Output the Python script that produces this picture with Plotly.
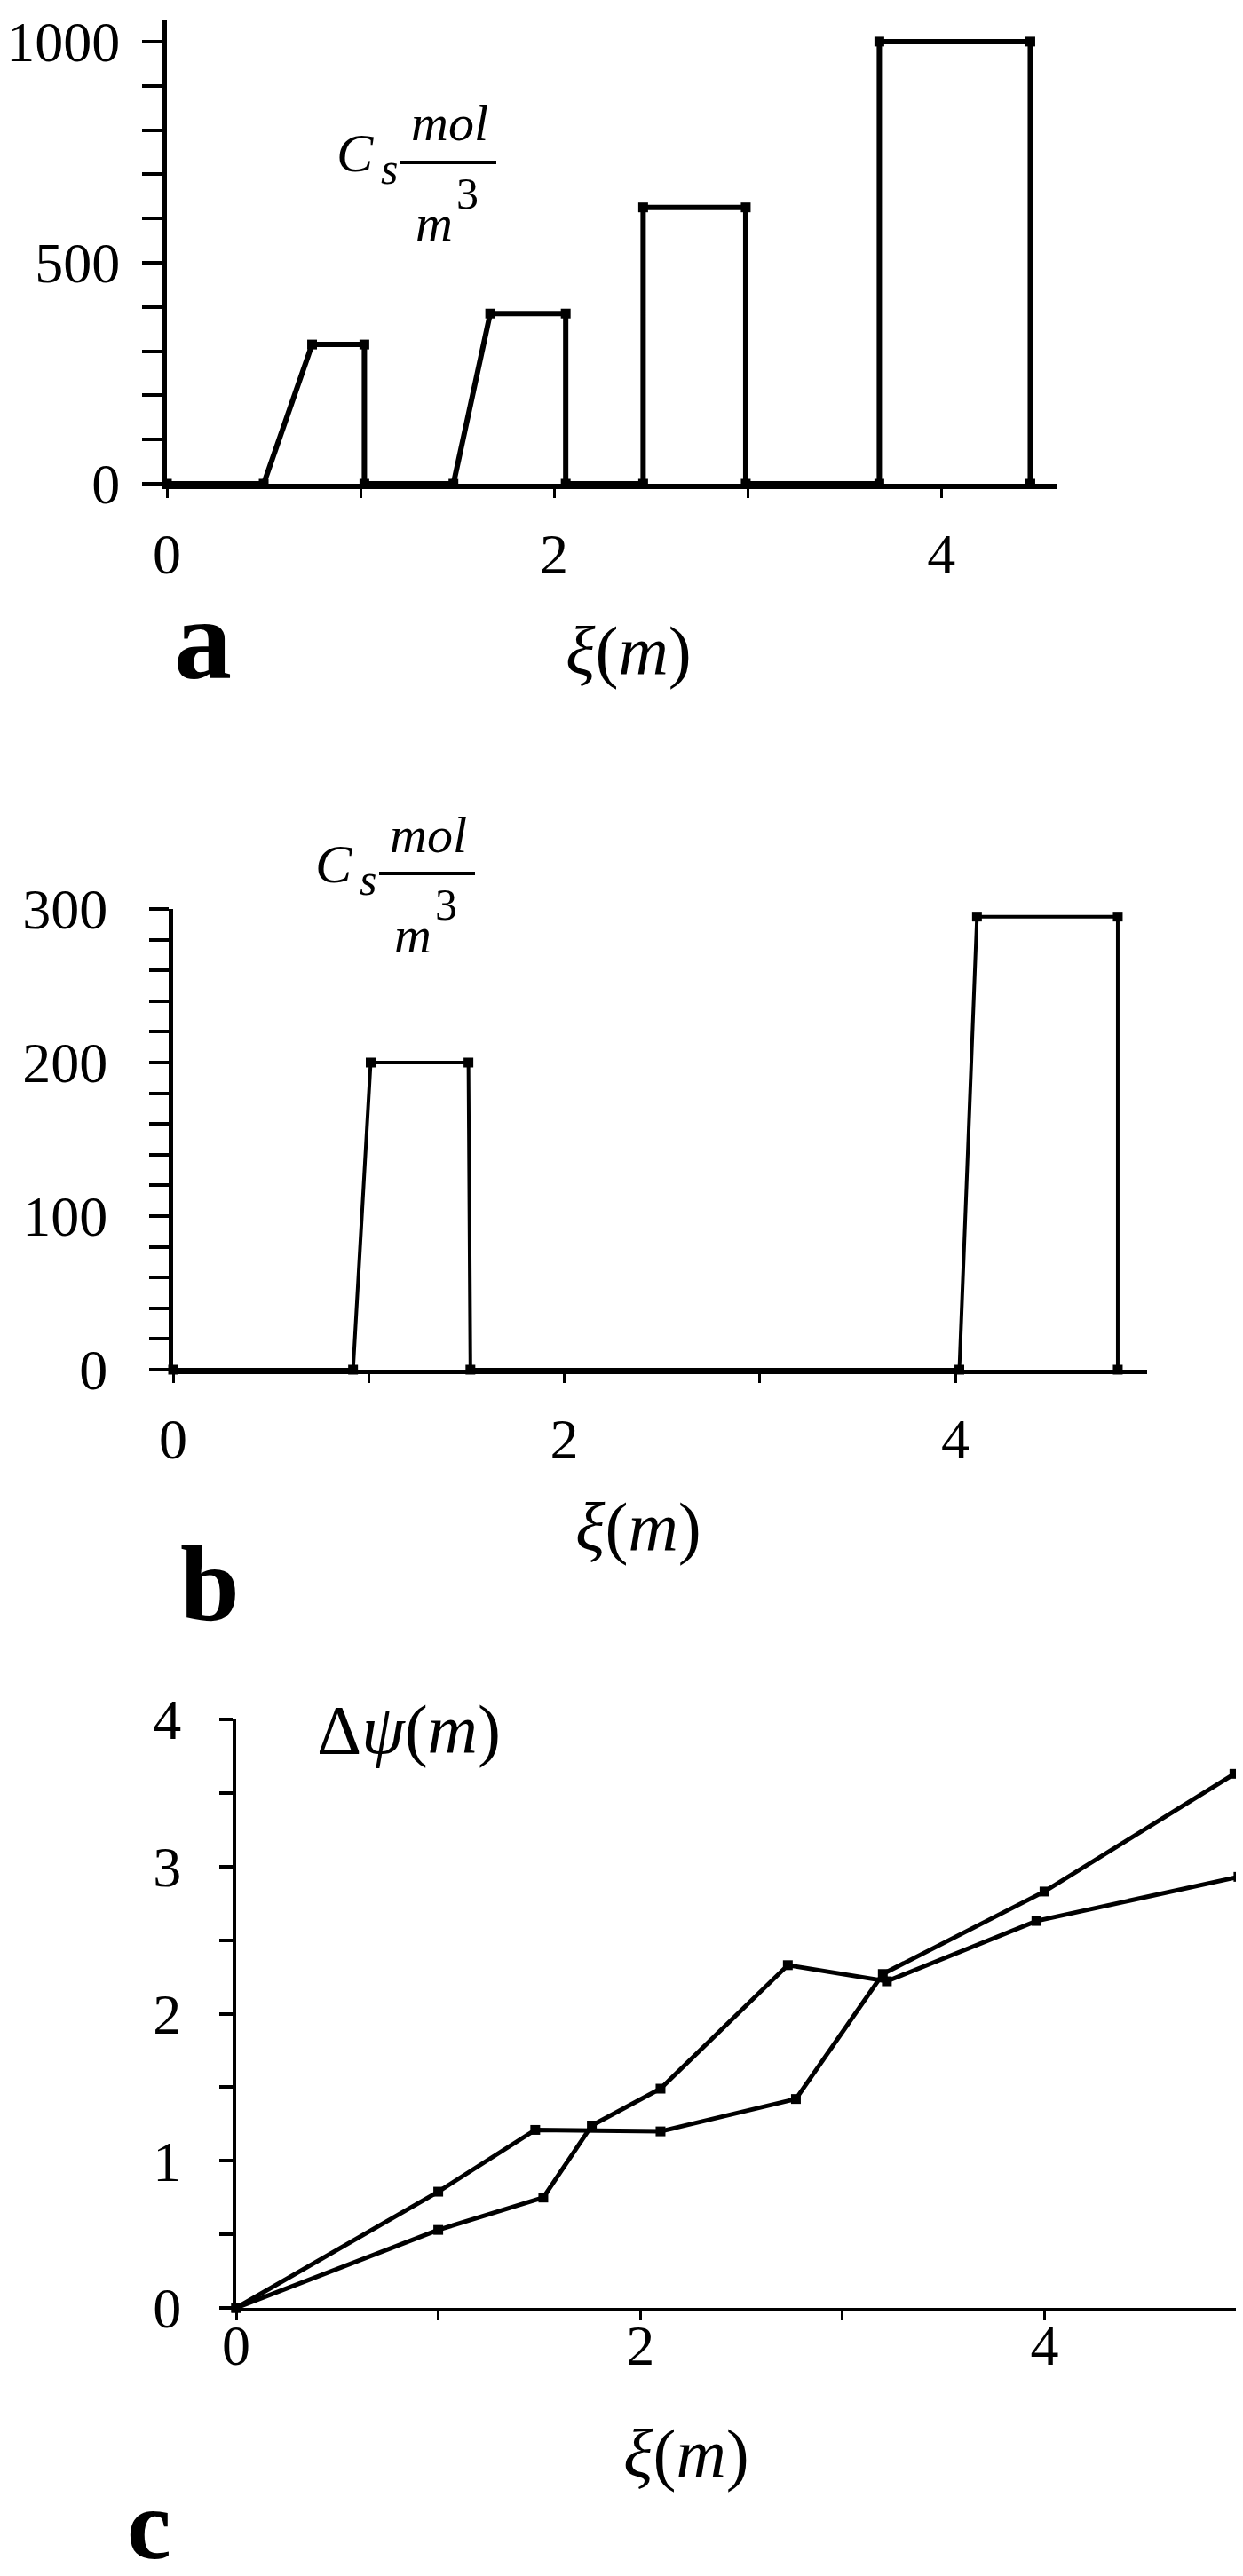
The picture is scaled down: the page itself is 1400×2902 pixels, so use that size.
import plotly.graph_objects as go

W, H = 1400, 2902
FONT = "Liberation Serif, Times New Roman, serif"

# ---- panel a : Cs (mol/m3) along xi (m)
a_xi = [0, 0.50, 0.75, 1.02, 1.02, 1.48, 1.67, 2.06, 2.06, 2.46, 2.46, 2.99, 2.99, 3.68, 3.68, 4.46, 4.46]
a_cs = [0, 0, 315, 315, 0, 0, 385, 385, 0, 0, 625, 625, 0, 0, 1000, 1000, 0]
a_yticks = [0, 100, 200, 300, 400, 500, 600, 700, 800, 900, 1000]
a_ylabels = ['0', '', '', '', '', '500', '', '', '', '', '1000']

# ---- panel b
b_xi = [0, 0.92, 1.01, 1.51, 1.52, 4.02, 4.11, 4.83, 4.83]
b_cs = [0, 0, 200, 200, 0, 0, 295, 295, 0]
b_yticks = [0, 20, 40, 60, 80, 100, 120, 140, 160, 180, 200, 220, 240, 260, 280, 300]
b_ylabels = ['0', '', '', '', '', '100', '', '', '', '', '200', '', '', '', '', '300']

# ---- panel c : delta psi (m)
c_xi_1 = [0, 1.0, 1.52, 1.76, 2.10, 2.73, 3.22, 3.96, 4.96]
c_dpsi_1 = [0, 0.53, 0.75, 1.24, 1.49, 2.33, 2.22, 2.63, 2.93]
c_xi_2 = [0, 1.0, 1.48, 2.10, 2.77, 3.20, 4.00, 4.94]
c_dpsi_2 = [0, 0.79, 1.21, 1.20, 1.42, 2.27, 2.83, 3.63]
c_yticks = [0, 0.5, 1, 1.5, 2, 2.5, 3, 3.5, 4]
c_ylabels = ['0', '', '1', '', '2', '', '3', '', '4']

x_ticks = [0, 1, 2, 3, 4, 5]
x_labels = ['0', '', '2', '', '4', '']


def px(p):
    return p / W


def py(p):
    return 1 - p / H


def line_trace(x, y, xa, ya, width):
    return go.Scatter(
        x=x, y=y, xaxis=xa, yaxis=ya, mode='lines+markers',
        line=dict(color='black', width=width),
        marker=dict(symbol='square', size=11, color='black'),
        cliponaxis=False, showlegend=False, hoverinfo='skip'
    )


fig = go.Figure()
fig.add_trace(line_trace(a_xi, a_cs, 'x', 'y', 6))
fig.add_trace(line_trace(b_xi, b_cs, 'x2', 'y2', 4))
fig.add_trace(line_trace(c_xi_1, c_dpsi_1, 'x3', 'y3', 5))
fig.add_trace(line_trace(c_xi_2, c_dpsi_2, 'x3', 'y3', 5))

tickfont = dict(family=FONT, size=64, color='black')


def xaxis(left, right, rng, y_anchor, lw, standoff):
    return dict(
        domain=[px(left), px(right)], range=rng, anchor=y_anchor, automargin=False,
        showgrid=False, zeroline=False, showline=True, linecolor='black', linewidth=lw,
        tickvals=x_ticks, ticktext=x_labels, ticks='outside', ticklen=10, tickwidth=3,
        tickcolor='black', tickfont=tickfont, ticklabelstandoff=standoff,
        ticklabeloverflow='allow', fixedrange=True
    )


def yaxis(top, bottom, rng, x_anchor, lw, vals, labels, tlen, standoff):
    return dict(
        domain=[py(bottom), py(top)], range=rng, anchor=x_anchor, automargin=False,
        showgrid=False, zeroline=False, showline=True, linecolor='black', linewidth=lw,
        tickvals=vals, ticktext=labels, ticks='outside', ticklen=tlen, tickwidth=4,
        tickcolor='black', tickfont=tickfont, ticklabelstandoff=standoff,
        ticklabeloverflow='allow', fixedrange=True
    )


fig.update_layout(
    width=W, height=H,
    margin=dict(l=0, r=0, t=0, b=0, autoexpand=False),
    paper_bgcolor='white', plot_bgcolor='white',
    xaxis=xaxis(180, 1183, [0, 4.6], 'y', 6, 8),
    yaxis=yaxis(14, 537, [0, 1050], 'x', 6, a_yticks, a_ylabels, 22, 12),
    xaxis2=xaxis(187, 1284, [0, 4.98], 'y2', 5, 8),
    yaxis2=yaxis(1016, 1535, [0, 300], 'x2', 5, b_yticks, b_ylabels, 22, 34),
    xaxis3=xaxis(258, 1396, [0, 5.0], 'y3', 4, -27),
    yaxis3=yaxis(1929, 2592, [0, 4], 'x3', 4, c_yticks, c_ylabels, 15, 30),
)

annotations = []


def note(text, x, y, size, yanchor='middle'):
    annotations.append(dict(
        text=text, x=px(x), y=py(y), xref='paper', yref='paper',
        xanchor='center', yanchor=yanchor, showarrow=False,
        font=dict(family=FONT, size=size, color='black')
    ))


# panel letters and axis titles
note('<b>a</b>', 220, 712, 130)
note('<b>b</b>', 228, 1776, 120)
note('<b>c</b>', 160, 2900, 112, yanchor='bottom')
note('<i>ξ</i>(<i>m</i>)', 700, 725, 78)
note('<i>ξ</i>(<i>m</i>)', 711, 1712, 78)
note('<i>ξ</i>(<i>m</i>)', 765, 2756, 78)
note('Δ<i>ψ</i>(<i>m</i>)', 452, 1940, 78)

shapes = []


def cs_label(dx, dy):
    note('<i>C</i>', 392 + dx, 164 + dy, 62)
    note('<i>s</i>', 430 + dx, 182 + dy, 50)
    note('<i>mol</i>', 498 + dx, 131 + dy, 58)
    note('<i>m</i>', 481 + dx, 244 + dy, 58)
    note('3', 518 + dx, 210 + dy, 50)
    shapes.append(dict(
        type='line', xref='paper', yref='paper',
        x0=px(443 + dx), x1=px(551 + dx), y0=py(175 + dy), y1=py(175 + dy),
        line=dict(color='black', width=4)
    ))


cs_label(0, 0)
cs_label(-24, 801)

fig.update_layout(annotations=annotations, shapes=shapes)

fig.write_html("out.html")
